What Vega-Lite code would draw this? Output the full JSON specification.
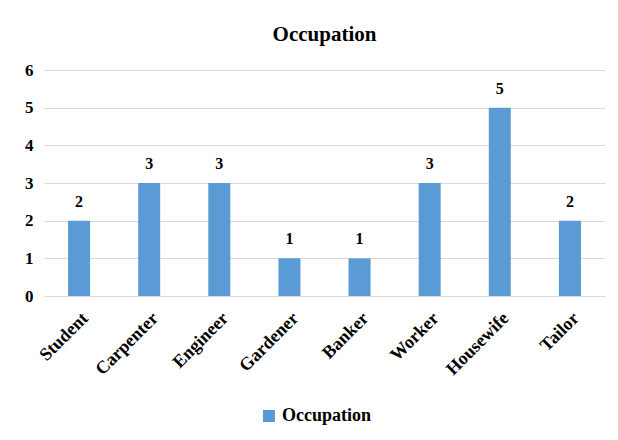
{
  "$schema": "https://vega.github.io/schema/vega-lite/v6.json",
  "width": 561,
  "height": 226,
  "autosize": "none",
  "padding": {"left": 44, "top": 70, "right": 13, "bottom": 144},
  "background": "white",
  "title": {"text": "Occupation", "font": "'Liberation Serif', 'Times New Roman', serif", "fontSize": 21, "fontWeight": "bold", "color": "#000000", "offset": 16, "anchor": "middle"},
  "data": {"values": [
    {"occupation": "Student", "count": 2, "series": "Occupation"},
    {"occupation": "Carpenter", "count": 3, "series": "Occupation"},
    {"occupation": "Engineer", "count": 3, "series": "Occupation"},
    {"occupation": "Gardener", "count": 1, "series": "Occupation"},
    {"occupation": "Banker", "count": 1, "series": "Occupation"},
    {"occupation": "Worker", "count": 3, "series": "Occupation"},
    {"occupation": "Housewife", "count": 5, "series": "Occupation"},
    {"occupation": "Tailor", "count": 2, "series": "Occupation"}
  ]},
  "encoding": {
    "x": {"field": "occupation", "type": "nominal", "sort": null,
      "scale": {"paddingInner": 0.686, "paddingOuter": 0.343},
      "axis": {"title": null, "labelAngle": -45, "labelFont": "'Liberation Serif', 'Times New Roman', serif", "labelFontSize": 18, "labelFontWeight": "bold", "labelColor": "#000000", "ticks": false, "domain": false, "labelPadding": 13}},
    "y": {"field": "count", "type": "quantitative",
      "scale": {"domain": [0, 6]},
      "axis": {"title": null, "values": [0,1,2,3,4,5,6], "labelFont": "'Liberation Serif', 'Times New Roman', serif", "labelFontSize": 17, "labelFontWeight": "bold", "labelColor": "#000000", "ticks": false, "domain": false, "labelPadding": 11, "labelOverlap": false, "gridColor": "#D9D9D9", "gridWidth": 1.2}}
  },
  "layer": [
    {"mark": {"type": "bar"},
     "encoding": {"color": {"field": "series", "type": "nominal", "scale": {"range": ["#5B9BD5"]},
       "legend": {"title": null, "orient": "none", "legendX": 216, "legendY": 337, "symbolType": "square", "symbolSize": 144, "symbolStrokeWidth": 0, "labelFont": "'Liberation Serif', 'Times New Roman', serif", "labelFontSize": 18, "labelFontWeight": "bold", "labelColor": "#000000"}}}},
    {"mark": {"type": "text", "dy": -19, "font": "'Liberation Serif', 'Times New Roman', serif", "fontSize": 16, "fontWeight": "bold", "color": "#000000"},
     "encoding": {"text": {"field": "count", "type": "quantitative"}}}
  ],
  "config": {"view": {"stroke": null}}
}
